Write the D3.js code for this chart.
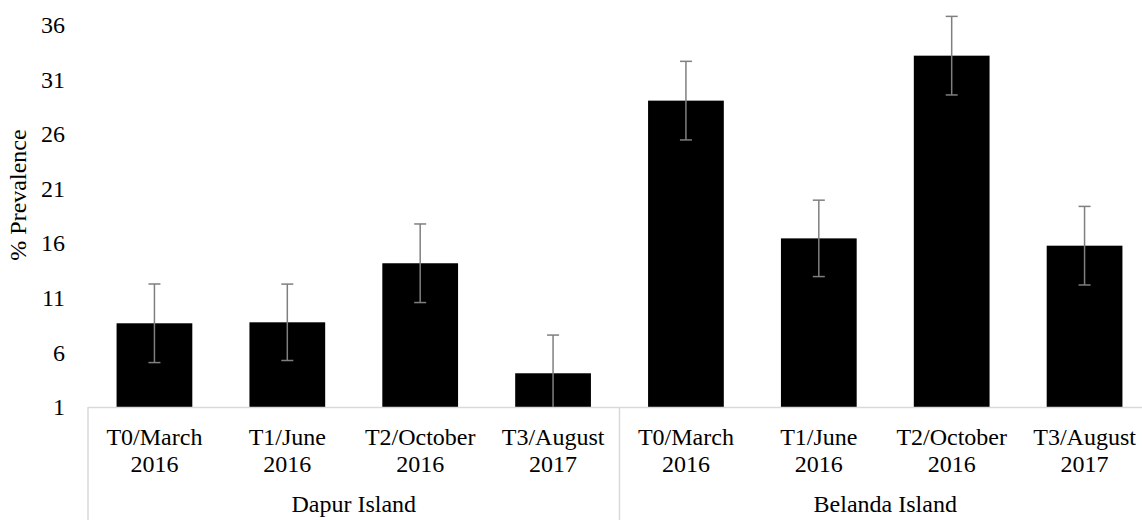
<!DOCTYPE html>
<html>
<head>
<meta charset="utf-8">
<script src="https://cdn.jsdelivr.net/npm/d3@7"></script>
<style>
  body { margin: 0; background: #fff; }
  svg text { font-family: "Liberation Serif", "Times New Roman", serif; fill: #000; }
</style>
</head>
<body>
<svg class="chart"></svg>
<script>
// data
var groups = ["Dapur Island", "Belanda Island"];
var periods = [["T0/March", "2016"], ["T1/June", "2016"], ["T2/October", "2016"], ["T3/August", "2017"]];
var prevalence = [8.67, 8.76, 14.17, 4.09, 29.07, 16.45, 33.19, 15.78];
var errors = [3.6, 3.5, 3.6, 3.5, 3.6, 3.5, 3.6, 3.6];
var yTicks = [1, 6, 11, 16, 21, 26, 31, 36];

var svgWidth = 1142, svgHeight = 520;
var plotLeft = 88, plotRight = 1151, plotTop = 25, plotBottom = 407;

var svg = d3.select(".chart")
  .attr("width", svgWidth)
  .attr("height", svgHeight);

var cats = d3.range(prevalence.length);

var xScale = d3.scaleBand()
  .domain(cats)
  .range([plotLeft, plotRight])
  .paddingInner(0.43)
  .paddingOuter(0.215);

var yScale = d3.scaleLinear()
  .domain([1, 36])
  .range([plotBottom, plotTop]);

// y axis labels only, no line
var y_axis = d3.axisLeft(yScale).tickValues(yTicks).tickSize(0).tickPadding(0);
var yg = svg.append("g")
  .attr("transform", "translate(65,0)")
  .call(y_axis);
yg.select(".domain").remove();
yg.attr("font-family", null).attr("font-size", null);
yg.selectAll("text")
  .style("font-size", "24px")
  .attr("fill", "#000");

// bars
svg.selectAll("rect.bar")
  .data(prevalence)
  .enter()
  .append("rect")
  .attr("class", "bar")
  .attr("x", function (d, i) { return xScale(i); })
  .attr("y", function (d) { return yScale(d); })
  .attr("width", xScale.bandwidth())
  .attr("height", function (d) { return yScale(1) - yScale(d); })
  .attr("fill", "#000");

// category axis line
svg.append("line")
  .attr("x1", plotLeft).attr("x2", svgWidth)
  .attr("y1", plotBottom + 0.5).attr("y2", plotBottom + 0.5)
  .attr("stroke", "#d9d9d9").attr("stroke-width", 1.5);

// group separators
var step = xScale.step();
[0, 4].forEach(function (k) {
  var x = plotLeft + step * k;
  svg.append("line")
    .attr("x1", x).attr("x2", x)
    .attr("y1", plotBottom).attr("y2", svgHeight)
    .attr("stroke", "#d9d9d9").attr("stroke-width", 1.5);
});

// error bars
function cx(i) { return xScale(i) + xScale.bandwidth() / 2; }

var errData = cats.map(function (i) {
  return { i: i, hi: prevalence[i] + errors[i], lo: prevalence[i] - errors[i] };
});

var eb = svg.selectAll("g.err")
  .data(errData)
  .enter()
  .append("g")
  .attr("class", "err")
  .attr("stroke", "#7f7f7f")
  .attr("stroke-width", 1.5);

eb.append("line")
  .attr("x1", function (d) { return cx(d.i); })
  .attr("x2", function (d) { return cx(d.i); })
  .attr("y1", function (d) { return yScale(d.hi); })
  .attr("y2", function (d) { return yScale(Math.max(1, d.lo)); });
eb.append("line")
  .attr("x1", function (d) { return cx(d.i) - 6; })
  .attr("x2", function (d) { return cx(d.i) + 6; })
  .attr("y1", function (d) { return yScale(d.hi); })
  .attr("y2", function (d) { return yScale(d.hi); });
eb.filter(function (d) { return d.lo > 1; })
  .append("line")
  .attr("x1", function (d) { return cx(d.i) - 6; })
  .attr("x2", function (d) { return cx(d.i) + 6; })
  .attr("y1", function (d) { return yScale(d.lo); })
  .attr("y2", function (d) { return yScale(d.lo); });

// period labels (two lines)
var lab = svg.selectAll("text.period")
  .data(cats)
  .enter()
  .append("text")
  .attr("class", "period")
  .attr("text-anchor", "middle")
  .style("font-size", "24px")
  .attr("x", function (i) { return cx(i); })
  .attr("y", 445);
lab.append("tspan")
  .attr("x", function (i) { return cx(i); })
  .text(function (i) { return periods[i % 4][0]; });
lab.append("tspan")
  .attr("x", function (i) { return cx(i); })
  .attr("dy", 27)
  .text(function (i) { return periods[i % 4][1]; });

// island labels
svg.selectAll("text.group")
  .data(groups)
  .enter()
  .append("text")
  .attr("class", "group")
  .attr("text-anchor", "middle")
  .style("font-size", "24px")
  .attr("x", function (d, g) { return plotLeft + step * (4 * g + 2); })
  .attr("y", 512)
  .text(function (d) { return d; });

// y title
svg.append("text")
  .attr("text-anchor", "middle")
  .style("font-size", "24px")
  .attr("transform", "translate(26,195) rotate(-90)")
  .text("% Prevalence");
</script>
</body>
</html>
